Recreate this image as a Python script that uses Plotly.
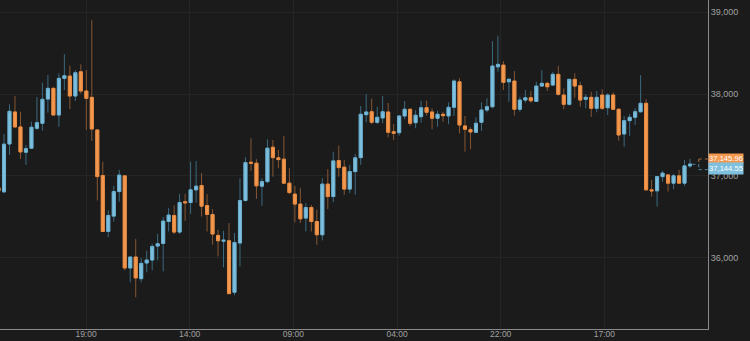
import plotly.graph_objects as go

opens = [36854, 36805, 37390, 37781, 37598, 37289, 37338, 37582, 37643, 37939,
         38070, 37744, 38192, 38220, 37976, 38272, 38037, 37960, 37561, 37004,
         36320, 36508, 36808, 37000, 35874, 36008, 35743, 35935, 35971, 36142,
         36174, 36442, 36516, 36313, 36683, 36674, 36829, 36882, 36638, 36528,
         36272, 36201, 36207, 35577, 36179, 36699, 37167, 37155, 36874, 36930,
         37350, 37220, 37204, 36911, 36777, 36655, 36484, 36613, 36442, 36280,
         36899, 36747, 37187, 37106, 36838, 37052, 37223, 37748, 37784, 37655,
         37708, 37781, 37540, 37528, 37732, 37814, 37650, 37723, 37833, 37781,
         37704, 37753, 37732, 37838, 38150, 37610, 37565, 37533, 37655, 37805,
         37845, 38333, 38354, 38150, 38159, 37814, 37927, 37955, 37911, 38098,
         38131, 38110, 38241, 37988, 37875, 38180, 38102, 37936, 37960, 37826,
         37988, 37833, 37988, 37814, 37512, 37675, 37716, 37784, 37887, 36829,
         36817, 36991, 37012, 36911, 37000, 36911, 37122]
highs = [36878, 37512, 37875, 37976, 37784, 37378, 37662, 37964, 38138, 38232,
         38082, 38253, 38488, 38346, 38293, 38363, 38293, 38903, 37561, 37174,
         36577, 36878, 37073, 37000, 36008, 36228, 35996, 36085, 36171, 36292,
         36496, 36606, 36638, 36780, 36780, 37174, 37183, 37033, 36777, 36594,
         36341, 36329, 36423, 36301, 36972, 37228, 37460, 37204, 36972, 37448,
         37439, 37317, 37488, 37094, 36878, 36850, 36667, 36646, 36585, 36972,
         37082, 37296, 37370, 37195, 37134, 37268, 37854, 37997, 37943, 37845,
         37976, 37891, 37634, 37744, 37915, 37826, 37805, 37919, 37919, 37826,
         37797, 37784, 37899, 38180, 38192, 37732, 37594, 37716, 37899, 37948,
         38647, 38712, 38403, 38199, 38281, 37968, 38049, 38037, 38150, 38293,
         38150, 38272, 38346, 38069, 38184, 38253, 38150, 37997, 38028, 38037,
         38058, 38009, 38021, 37826, 37732, 37756, 37826, 38232, 37936, 36951,
         36991, 37061, 37012, 37024, 37073, 37195, 37207]
lows = [36793, 36789, 37256, 37590, 37207, 37134, 37329, 37561, 37553, 37772,
        37744, 37601, 38049, 37817, 37915, 38004, 37561, 37427, 36699, 36320,
        36252, 36442, 36686, 35845, 35698, 35515, 35698, 35820, 35845, 35967,
        35832, 36320, 36289, 36289, 36451, 36536, 36674, 36503, 36320, 36158,
        36015, 35882, 35560, 35540, 35893, 36686, 37061, 36719, 36634, 36911,
        36991, 37094, 36899, 36777, 36430, 36423, 36320, 36320, 36158, 36211,
        36594, 36679, 36991, 36768, 36789, 36768, 37134, 37655, 37634, 37634,
        37643, 37472, 37439, 37492, 37692, 37610, 37582, 37650, 37736, 37570,
        37601, 37662, 37631, 37732, 37521, 37296, 37326, 37528, 37549, 37777,
        37826, 38272, 38049, 37906, 37736, 37784, 37894, 37894, 37903, 38089,
        38037, 38101, 37980, 37814, 37858, 37955, 37845, 37826, 37720, 37777,
        37805, 37744, 37805, 37431, 37357, 37488, 37622, 37772, 36829, 36747,
        36625, 36930, 36808, 36838, 36911, 36878, 37094]
closes = [36817, 37387, 37789, 37598, 37293, 37333, 37594, 37650, 37936, 38070,
          37744, 38192, 38224, 37976, 38260, 38037, 37948, 37573, 36991, 36320,
          36516, 36808, 37009, 35874, 36008, 35752, 35930, 35971, 36137, 36170,
          36447, 36521, 36313, 36674, 36671, 36829, 36874, 36630, 36528, 36289,
          36207, 36213, 35560, 36186, 36699, 37162, 37155, 36878, 36930, 37338,
          37223, 37199, 36911, 36796, 36655, 36475, 36613, 36442, 36280, 36899,
          36747, 37183, 37101, 36838, 37052, 37220, 37753, 37781, 37655, 37716,
          37784, 37533, 37521, 37732, 37814, 37643, 37741, 37833, 37777, 37704,
          37753, 37736, 37838, 38159, 37622, 37570, 37537, 37643, 37805, 37845,
          38342, 38363, 38143, 38180, 37814, 37927, 37955, 37918, 38098, 38131,
          38089, 38241, 37997, 37875, 38180, 38098, 37927, 37960, 37826, 37960,
          37826, 37988, 37814, 37500, 37675, 37716, 37784, 37887, 36829, 36817,
          36991, 37033, 36911, 37000, 36911, 37122, 37144.55]

x = list(range(len(opens)))

time_labels = ["19:00", "14:00", "09:00", "04:00", "22:00", "17:00"]
time_pos = [15.95, 34.84, 53.73, 72.62, 91.51, 110.4]
price_ticks = [36000, 37000, 38000, 39000]
price_labels = ["36,000", "37,000", "38,000", "39,000"]
ask_label = "37,145.96"
bid_label = "37,144.55"

BG = "#1b1b1b"
UP = "#7ec0de"
UP_EDGE = "#6cb0d0"
DOWN = "#f2984f"
DOWN_EDGE = "#ea8c42"
UP_WICK = "#3b6a80"
DOWN_WICK = "#875632"

body_hi = [max(o, c) for o, c in zip(opens, closes)]
body_lo = [min(o, c) for o, c in zip(opens, closes)]

fig = go.Figure()
# wicks
fig.add_trace(go.Candlestick(
    x=x, open=opens, high=highs, low=lows, close=closes,
    increasing=dict(line=dict(color=UP_WICK, width=1), fillcolor=UP_WICK),
    decreasing=dict(line=dict(color=DOWN_WICK, width=1), fillcolor=DOWN_WICK),
    hoverinfo="skip", showlegend=False))
# bodies
fig.add_trace(go.Candlestick(
    x=x, open=opens, high=body_hi, low=body_lo, close=closes,
    increasing=dict(line=dict(color=UP_EDGE, width=1), fillcolor=UP),
    decreasing=dict(line=dict(color=DOWN_EDGE, width=1), fillcolor=DOWN),
    hoverinfo="skip", showlegend=False))

# dotted leader lines to the price labels
dot_o = dict(color="#a8683a", width=1, dash="dot")
dot_b = dict(color="#4f8aa3", width=1, dash="dot")
fig.add_shape(type="line", xref="paper", yref="paper", x0=0.978, x1=0.987,
              y0=1 - 164.3 / 329, y1=1 - 164.3 / 329, line=dot_b)
fig.add_shape(type="line", xref="paper", yref="paper", x0=0.987, x1=0.987,
              y0=1 - 159 / 329, y1=1 - 164.3 / 329, line=dot_o)
fig.add_shape(type="line", xref="paper", yref="paper", x0=0.987, x1=1.0,
              y0=1 - 159 / 329, y1=1 - 159 / 329, line=dot_o)
fig.add_shape(type="line", xref="paper", yref="paper", x0=0.987, x1=0.987,
              y0=1 - 164.3 / 329, y1=1 - 169.6 / 329, line=dot_b)
fig.add_shape(type="line", xref="paper", yref="paper", x0=0.987, x1=1.0,
              y0=1 - 169.6 / 329, y1=1 - 169.6 / 329, line=dot_b)

label_font = dict(color="#ffffff", size=7.6, family="Liberation Sans, Arial")
fig.add_annotation(text=ask_label, xref="paper", yref="paper", x=1.0, y=1 - 158.8 / 329,
                   xanchor="left", yanchor="middle", showarrow=False,
                   bgcolor=DOWN, width=34, height=9, borderpad=0,
                   font=label_font)
fig.add_annotation(text=bid_label, xref="paper", yref="paper", x=1.0, y=1 - 168.7 / 329,
                   xanchor="left", yanchor="middle", showarrow=False,
                   bgcolor=UP, width=34, height=10.5, borderpad=0,
                   font=label_font)

fig.update_layout(
    width=750, height=341,
    margin=dict(l=0, r=42, t=0, b=12, autoexpand=False),
    paper_bgcolor=BG, plot_bgcolor=BG,
    boxgap=0.2,
    font=dict(family="Liberation Sans, Arial", size=9, color="#a0a0a0"),
    xaxis=dict(range=[0.27, 129.28], tickvals=time_pos, ticktext=time_labels,
               showgrid=True, gridcolor="#252525", gridwidth=1, zeroline=False,
               showline=True, linecolor="#8a8a8a", linewidth=1,
               rangeslider=dict(visible=False), ticks="", ticklabelstandoff=-3,
               tickfont=dict(size=8.5, color="#a0a0a0")),
    yaxis=dict(range=[35128, 39150], side="right", tickvals=price_ticks,
               ticktext=price_labels, showgrid=True, gridcolor="#252525",
               zeroline=False, showline=True, linecolor="#8a8a8a", linewidth=1,
               ticks="", tickfont=dict(size=9, color="#a0a0a0")),
    hovermode=False,
)

fig.write_html("out.html")
